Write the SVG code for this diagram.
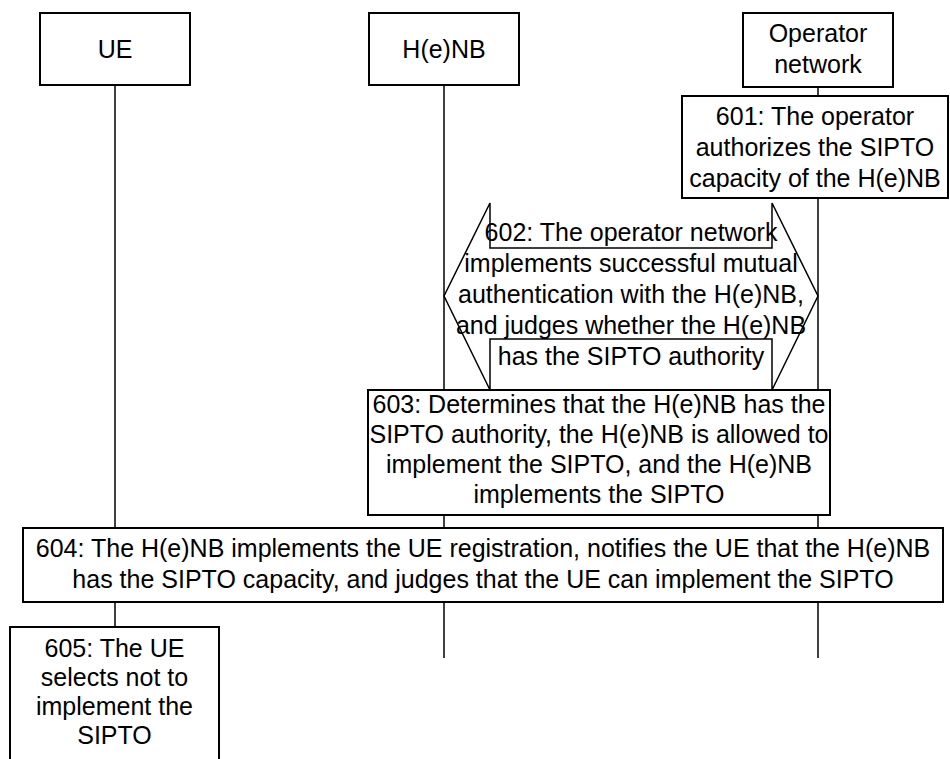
<svg xmlns="http://www.w3.org/2000/svg" width="950" height="759" viewBox="0 0 950 759">
  <style>
    .box { fill: #ffffff; stroke: #000000; stroke-width: 2; }
    .life { stroke: #000000; stroke-width: 1.5; fill: none; }
    .arrow { fill: none; stroke: #000000; stroke-width: 1.5; stroke-linejoin: miter; }
    text { font-family: "Liberation Sans", Arial, Helvetica, sans-serif; font-size: 25px; fill: #000000; text-anchor: middle; }
  </style>

  <!-- lifelines -->
  <g id="connectors">
    <line class="life" x1="115" y1="85" x2="115" y2="628"/>
    <line class="life" x1="444" y1="85" x2="444" y2="658"/>
    <line class="life" x1="818" y1="87" x2="818" y2="658"/>
  </g>

  <!-- participants -->
  <g id="ue">
    <rect class="box" x="40" y="13" width="150" height="72"/>
    <text x="115" y="58">UE</text>
  </g>
  <g id="henb">
    <rect class="box" x="369" y="13" width="150" height="72"/>
    <text x="444" y="58">H(e)NB</text>
  </g>
  <g id="operator">
    <rect class="box" x="743" y="13" width="150" height="74"/>
    <text x="818" y="42">Operator</text>
    <text x="818" y="73">network</text>
  </g>

  <!-- step 601 -->
  <g id="step601">
    <rect class="box" x="682" y="96" width="266" height="102"/>
    <text x="815" y="125">601: The operator</text>
    <text x="815" y="156">authorizes the SIPTO</text>
    <text x="815" y="187">capacity of the H(e)NB</text>
  </g>

  <!-- step 602: two-way block arrow -->
  <g id="step602">
    <polygon class="arrow" points="444,296 490,203 490,248 772,248 772,203 818,296 772,390 772,339 490,339 490,390"/>
    <text x="631" y="241">602: The operator network</text>
    <text x="631" y="272">implements successful mutual</text>
    <text x="631" y="303">authentication with the H(e)NB,</text>
    <text x="631" y="334">and judges whether the H(e)NB</text>
    <text x="631" y="365">has the SIPTO authority</text>
  </g>

  <!-- step 603 -->
  <g id="step603">
    <rect class="box" x="368" y="390" width="462" height="125"/>
    <text x="599" y="413">603: Determines that the H(e)NB has the</text>
    <text x="599" y="443">SIPTO authority, the H(e)NB is allowed to</text>
    <text x="599" y="473">implement the SIPTO, and the H(e)NB</text>
    <text x="599" y="503">implements the SIPTO</text>
  </g>

  <!-- step 604 -->
  <g id="step604">
    <rect class="box" x="23" y="528" width="920" height="74"/>
    <text x="483" y="557">604: The H(e)NB implements the UE registration, notifies the UE that the H(e)NB</text>
    <text x="483" y="588">has the SIPTO capacity, and judges that the UE can implement the SIPTO</text>
  </g>

  <!-- step 605 -->
  <g id="step605">
    <rect class="box" x="10" y="627" width="209" height="150"/>
    <text x="114.5" y="657">605: The UE</text>
    <text x="114.5" y="686">selects not to</text>
    <text x="114.5" y="715">implement the</text>
    <text x="114.5" y="744">SIPTO</text>
  </g>
</svg>
